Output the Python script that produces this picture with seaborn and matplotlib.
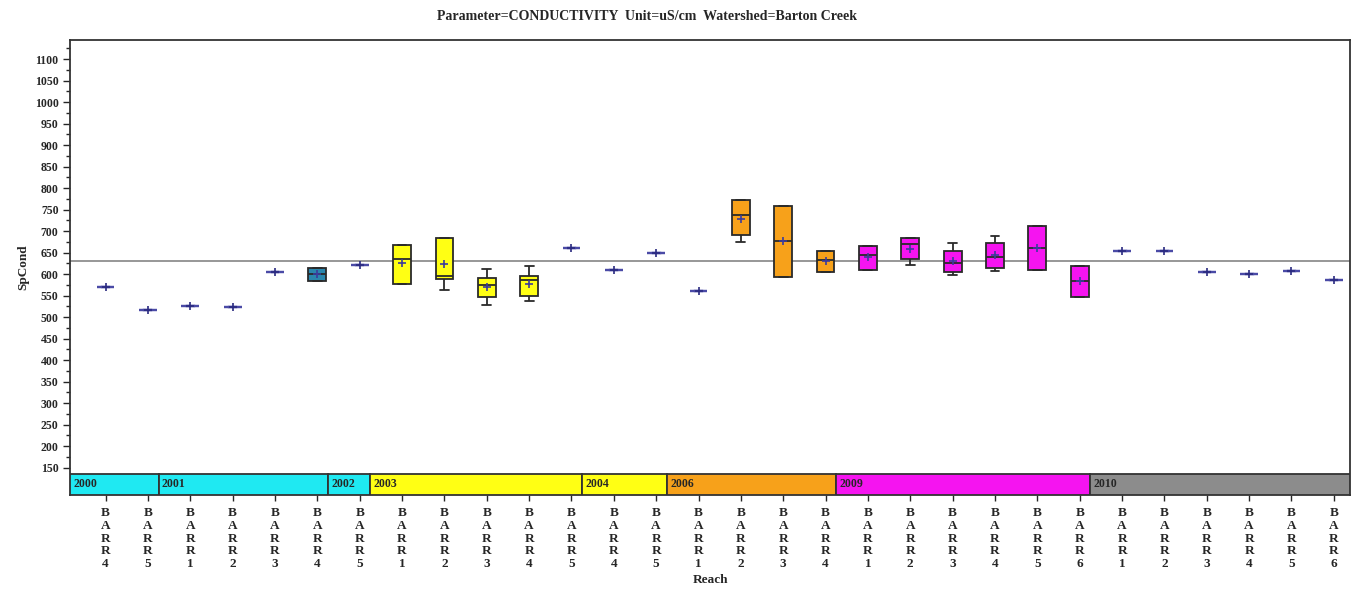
import matplotlib.pyplot as plt
import seaborn as sns
import pandas as pd
from matplotlib.patches import Rectangle
from matplotlib.ticker import FixedLocator

# year of sampling and reach number for every box, left to right
years = ["2000", "2000", "2001", "2001", "2001", "2001", "2002",
         "2003", "2003", "2003", "2003", "2003", "2004", "2004",
         "2006", "2006", "2006", "2006",
         "2009", "2009", "2009", "2009", "2009", "2009",
         "2010", "2010", "2010", "2010", "2010", "2010"]
reaches = [4, 5, 1, 2, 3, 4, 5,
           1, 2, 3, 4, 5, 4, 5,
           1, 2, 3, 4,
           1, 2, 3, 4, 5, 6,
           1, 2, 3, 4, 5, 6]

spcond = [[571], [517], [525], [524], [604], [585, 585, 600, 615, 615], [622],
          [578, 578, 636, 669, 669], [564, 589, 596, 683, 683],
          [529, 548, 576, 591, 612], [537, 550, 587, 595, 618], [662],
          [610], [649],
          [560], [674, 690, 738, 772, 772], [593, 593, 678, 759, 759],
          [605, 605, 634, 655, 655],
          [610, 610, 645, 666, 666], [622, 636, 671, 684, 684],
          [597, 605, 627, 653, 672], [607, 614, 640, 672, 688],
          [610, 610, 661, 713, 713], [548, 548, 583, 620, 620],
          [655], [655], [606], [601], [608], [587]]

reference_value = 630

year_colors = {"2000": "#1fe9f2", "2001": "#1fe9f2", "2002": "#1fe9f2",
               "2003": "#ffff14", "2004": "#ffff14", "2006": "#f7a11a",
               "2009": "#f514f0", "2010": "#8c8c8c"}
box_override = {5: "#2a86ad"}

label_chars = ["B", "A", "R", "R"]

sns.set_style("white")
plt.rcParams["font.family"] = ["Liberation Serif", "DejaVu Serif"]
plt.rcParams["font.weight"] = "bold"

keys = [f"{y}_{r}_{i}" for i, (y, r) in enumerate(zip(years, reaches))]
rows = []
for k, vals in zip(keys, spcond):
    for v in vals:
        rows.append({"key": k, "SpCond": v, "n": len(vals)})
df = pd.DataFrame(rows)
palette = {k: box_override.get(i, year_colors[y]) for i, (k, y) in enumerate(zip(keys, years))}

fig = plt.figure(figsize=(13.54, 5.94), dpi=100)
ax = fig.add_axes([0.052, 0.167, 0.945, 0.766])

ax.axhline(reference_value, color="#8f8f8f", lw=1.3, zorder=0.5)

multi = df[df["n"] > 1]
single = df[df["n"] == 1]
sns.boxplot(data=multi, x="key", y="SpCond", hue="key", order=keys,
            palette=palette, saturation=1, width=0.42, showmeans=True, whis=1.5,
            meanprops=dict(marker="+", markeredgecolor="#3b3b9c", markersize=6, markeredgewidth=1.2),
            linecolor="#2a2a2a", linewidth=1.3, fliersize=0, legend=False, ax=ax)
sns.boxplot(data=single, x="key", y="SpCond", hue="key", order=keys,
            palette=palette, saturation=1, width=0.42, showmeans=True,
            meanprops=dict(marker="+", markeredgecolor="#2a2a80", markersize=6, markeredgewidth=1.2),
            linecolor="#4a4aa6", linewidth=1.6, fliersize=0, legend=False, ax=ax)

x_lo, x_hi = -0.83, len(keys) - 1 + 0.38
y_lo, y_hi = 87, 1145
band_top = 136
ax.set_xlim(x_lo, x_hi)
ax.set_ylim(y_lo, y_hi)

# year blocks along the bottom of the plot area
groups = []
for i, y in enumerate(years):
    if not groups or groups[-1][0] != y:
        groups.append([y, i, i])
    else:
        groups[-1][2] = i
for gi, (y, start, end) in enumerate(groups):
    left = x_lo if gi == 0 else start - 0.75
    right = x_hi if gi == len(groups) - 1 else end + 0.25
    ax.add_patch(Rectangle((left, y_lo), right - left, band_top - y_lo,
                           facecolor=year_colors[y], edgecolor="#333333", lw=1.3, zorder=3))
    ax.text(left + 0.08, (y_lo + band_top) / 2, y, fontsize=8.5, fontweight="bold",
            va="center", ha="left", zorder=4)

ax.yaxis.set_major_locator(FixedLocator(list(range(150, 1101, 50))))
ax.yaxis.set_minor_locator(FixedLocator(list(range(175, 1126, 50))))
ax.tick_params(axis="y", which="major", direction="out", length=5, width=1, labelsize=8.5, left=True)
ax.tick_params(axis="y", which="minor", direction="out", length=3, width=1, left=True)
ax.tick_params(axis="x", direction="out", length=4, width=1, bottom=True, pad=5)
ax.set_xticks(range(len(keys)))
ax.set_xticklabels(["\n".join(label_chars + [str(r)]) for r in reaches],
                   fontsize=9.5, fontweight="bold", linespacing=1.08)
for t in ax.get_yticklabels():
    t.set_fontweight("bold")

for s in ax.spines.values():
    s.set_color("#333333")
    s.set_linewidth(1.3)

ax.set_xlabel("Reach", fontsize=9.5, fontweight="bold", labelpad=3)
ax.set_ylabel("SpCond", fontsize=9.5, fontweight="bold", labelpad=4)
fig.text(0.478, 0.972, "Parameter=CONDUCTIVITY  Unit=uS/cm  Watershed=Barton Creek",
         ha="center", va="center", fontsize=10, fontweight="bold")

fig.savefig("out.png", dpi=100)
